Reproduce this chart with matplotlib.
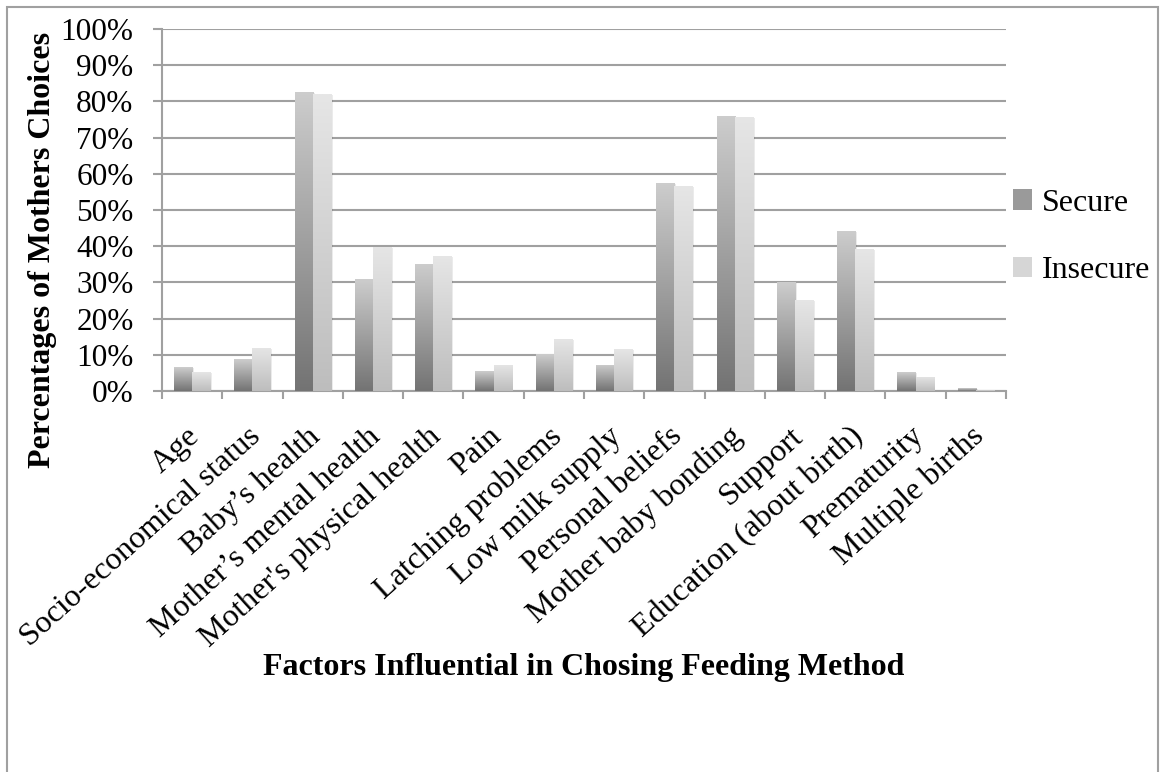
import numpy as np
import matplotlib
matplotlib.use("Agg")
import matplotlib.pyplot as plt
import matplotlib.transforms as mtransforms
from matplotlib.colors import LinearSegmentedColormap
from matplotlib.patches import Patch, Rectangle
from matplotlib.ticker import FixedLocator, PercentFormatter

# ---------- data ----------
categories = [
    "Age",
    "Socio-economical status",
    "Baby\u2019s health",
    "Mother\u2019s mental health",
    "Mother's physical health",
    "Pain",
    "Latching problems",
    "Low milk supply",
    "Personal beliefs",
    "Mother baby bonding",
    "Support",
    "Education (about birth)",
    "Prematurity",
    "Multiple births",
]
secure = [6.6, 8.8, 82.6, 30.9, 35.1, 5.5, 10.2, 7.2, 57.5, 76.0, 30.1, 44.2, 5.2, 0.8]
insecure = [5.2, 11.9, 82.0, 39.8, 37.3, 7.2, 14.4, 11.6, 56.6, 75.7, 25.1, 39.2, 3.9, 0.3]
series_names = ["Secure", "Insecure"]

# ---------- style ----------
plt.rcParams["font.family"] = ["Liberation Serif", "DejaVu Serif"]
grid_col = "#a0a0a0"
cmaps = [
    LinearSegmentedColormap.from_list("sec", ["#737373", "#cdcdcd"]),
    LinearSegmentedColormap.from_list("ins", ["#bdbdbd", "#e6e6e6"]),
]
legend_cols = ["#9a9a9a", "#d6d6d6"]

fig = plt.figure(figsize=(11.6, 7.72), dpi=100)
ax = fig.add_axes([162 / 1160, 1 - 391 / 772, 844 / 1160, 362 / 772])

# outer chart frame (bottom edge runs off the image)
fig.patches.append(Rectangle((7 / 1160, -0.05), 1151 / 1160, 1.05 - 7 / 772,
                             transform=fig.transFigure, fill=False,
                             edgecolor=grid_col, linewidth=1.5))

x = np.arange(len(categories))
w = 0.3
grad = np.linspace(0, 1, 256).reshape(-1, 1)

for k, vals in enumerate([secure, insecure]):
    offs = (k - 0.5) * w
    bars = ax.bar(x + offs, vals, w, color="none", edgecolor="none", zorder=3)
    for rect in bars:
        bx, bw, bh = rect.get_x(), rect.get_width(), rect.get_height()
        # soft shadow on the right
        ax.add_patch(Rectangle((bx + 0.03, 0), bw, bh - 0.3, facecolor="#000000",
                               alpha=0.08, edgecolor="none", zorder=2.5))
        im = ax.imshow(grad, cmap=cmaps[k], origin="lower", aspect="auto",
                       extent=[bx, bx + bw, 0, bh], zorder=3)
        im.set_clip_path(rect)

ax.set_xlim(-0.5, len(categories) - 0.5)
ax.set_ylim(0, 100)

# y axis
ax.yaxis.set_major_locator(FixedLocator(np.arange(0, 101, 10)))
ax.yaxis.set_major_formatter(PercentFormatter(decimals=0))
ax.tick_params(axis="y", direction="out", length=6.5, width=1.5, color=grid_col,
               pad=14, labelsize=22.5)
ax.grid(True, axis="y", color=grid_col, linewidth=1.5, zorder=1)
ax.set_axisbelow(True)

# x axis: labels at centers, ticks at boundaries
ax.set_xticks(x)
ax.set_xticklabels(categories, rotation=42, ha="right", va="center",
                   rotation_mode="anchor", fontsize=23)
ax.tick_params(axis="x", which="major", length=0, pad=30)
shift = mtransforms.ScaledTranslation(4 / 100, 0, fig.dpi_scale_trans)
for lab in ax.get_xticklabels():
    lab.set_transform(lab.get_transform() + shift)
ax.set_xticks(np.arange(-0.5, len(categories)), minor=True)
ax.tick_params(axis="x", which="minor", direction="out", length=6, width=1.5,
               color=grid_col)

for side in ["top", "right"]:
    ax.spines[side].set_visible(False)
for side in ["left", "bottom"]:
    ax.spines[side].set_color(grid_col)
    ax.spines[side].set_linewidth(1.5)

# axis titles
fig.text(43 / 1160, 1 - 250 / 772, "Percentages of Mothers Choices", rotation=90,
         ha="center", va="center", fontsize=23, fontweight="bold")
fig.text(584 / 1160, 1 - 667 / 772, "Factors Influential in Chosing Feeding Method",
         ha="center", va="center", fontsize=23, fontweight="bold")

# legend
handles = [Patch(facecolor=c, edgecolor="none") for c in legend_cols]
fig.legend(handles, series_names, loc="center left",
           bbox_to_anchor=(984 / 1160, 1 - 237 / 772), frameon=False,
           fontsize=23, handlelength=0.6, handleheight=0.6, handletextpad=0.3,
           labelspacing=1.2)

fig.savefig("out.png", dpi=100)
